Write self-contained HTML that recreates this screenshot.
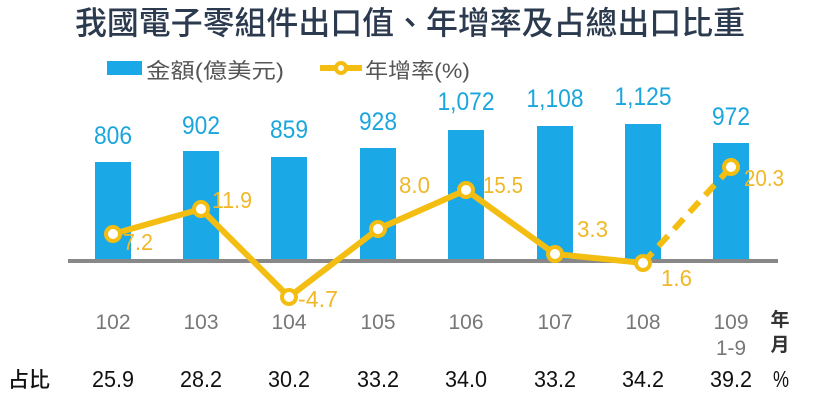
<!DOCTYPE html><html><head><meta charset="utf-8"><style>body{margin:0;background:#fff}svg{display:block}</style></head><body>
<svg width="822" height="404" xmlns="http://www.w3.org/2000/svg" font-family="Liberation Sans, Noto Sans CJK TC, sans-serif">
<text x="410" y="34" text-anchor="middle" font-size="32" fill="#2b3a4e" font-weight="500" font-family="Noto Sans CJK TC, sans-serif" textLength="670" lengthAdjust="spacingAndGlyphs">我國電子零組件出口值、年增率及占總出口比重</text>
<rect x="107" y="61" width="35" height="14" fill="#1aa9e6"/>
<text x="146" y="78" font-size="21" fill="#555" textLength="138" lengthAdjust="spacingAndGlyphs">金額(億美元)</text>
<line x1="320" y1="68" x2="362" y2="68" stroke="#f4bd12" stroke-width="6"/>
<circle cx="341" cy="68" r="5" fill="#fff" stroke="#f4bd12" stroke-width="4"/>
<text x="365" y="78" font-size="21" fill="#555" textLength="105" lengthAdjust="spacingAndGlyphs">年增率(%)</text>
<g fill="#1aa9e6">
<rect x="95" y="162" width="36" height="98"/><rect x="183" y="151" width="36" height="109"/><rect x="271" y="157" width="36" height="103"/><rect x="360" y="148" width="36" height="112"/><rect x="448" y="130" width="36" height="130"/><rect x="537" y="126" width="36" height="134"/><rect x="625" y="124" width="36" height="136"/><rect x="713" y="143" width="36" height="117"/>
</g>
<line x1="68" y1="261" x2="778" y2="261" stroke="#888" stroke-width="4"/>
<g font-size="25" fill="#1aa6dc" text-anchor="middle">
<text x="113" y="144" textLength="38" lengthAdjust="spacingAndGlyphs">806</text><text x="201" y="134" textLength="38" lengthAdjust="spacingAndGlyphs">902</text><text x="289" y="138" textLength="38" lengthAdjust="spacingAndGlyphs">859</text><text x="378" y="130" textLength="38" lengthAdjust="spacingAndGlyphs">928</text><text x="466" y="110" textLength="57" lengthAdjust="spacingAndGlyphs">1,072</text><text x="555" y="107" textLength="57" lengthAdjust="spacingAndGlyphs">1,108</text><text x="643" y="105" textLength="57" lengthAdjust="spacingAndGlyphs">1,125</text><text x="731" y="125" textLength="38" lengthAdjust="spacingAndGlyphs">972</text>
</g>
<polyline points="113,234 201,209 289,297 378,229 466,190 555,254 643,263" fill="none" stroke="#f4bd12" stroke-width="6" stroke-linejoin="round"/>
<line x1="643" y1="263" x2="731" y2="167" stroke="#f4bd12" stroke-width="6" stroke-dasharray="14,9"/>
<g fill="#fff" stroke="#f4bd12" stroke-width="4">
<circle cx="113" cy="234" r="7"/><circle cx="201" cy="209" r="7"/><circle cx="289" cy="297" r="7"/><circle cx="378" cy="229" r="7"/><circle cx="466" cy="190" r="7"/><circle cx="555" cy="254" r="7"/><circle cx="643" cy="263" r="7"/><circle cx="731" cy="167" r="7"/>
</g>
<g font-size="23" fill="#f0b828">
<text x="123" y="250" textLength="30" lengthAdjust="spacingAndGlyphs">7.2</text><text x="212" y="208" textLength="40" lengthAdjust="spacingAndGlyphs">11.9</text><text x="298" y="307" textLength="40" lengthAdjust="spacingAndGlyphs">-4.7</text><text x="399" y="193" textLength="31" lengthAdjust="spacingAndGlyphs">8.0</text><text x="483" y="193" textLength="40" lengthAdjust="spacingAndGlyphs">15.5</text><text x="577" y="237" textLength="31" lengthAdjust="spacingAndGlyphs">3.3</text><text x="661" y="286" textLength="31" lengthAdjust="spacingAndGlyphs">1.6</text><text x="744" y="186" textLength="40" lengthAdjust="spacingAndGlyphs">20.3</text>
</g>
<g font-size="21" fill="#777" text-anchor="middle">
<text x="113" y="329" textLength="35" lengthAdjust="spacingAndGlyphs">102</text><text x="201" y="329" textLength="35" lengthAdjust="spacingAndGlyphs">103</text><text x="289" y="329" textLength="35" lengthAdjust="spacingAndGlyphs">104</text><text x="378" y="329" textLength="35" lengthAdjust="spacingAndGlyphs">105</text><text x="466" y="329" textLength="35" lengthAdjust="spacingAndGlyphs">106</text><text x="555" y="329" textLength="35" lengthAdjust="spacingAndGlyphs">107</text><text x="643" y="329" textLength="35" lengthAdjust="spacingAndGlyphs">108</text><text x="731" y="329" textLength="35" lengthAdjust="spacingAndGlyphs">109</text><text x="731" y="355" textLength="30" lengthAdjust="spacingAndGlyphs">1-9</text>
</g>
<text x="780" y="326" font-size="19" fill="#333" font-weight="bold" text-anchor="middle" font-family="Noto Sans CJK TC, sans-serif">年</text>
<text x="780" y="351" font-size="19" fill="#333" font-weight="bold" text-anchor="middle" font-family="Noto Sans CJK TC, sans-serif">月</text>
<text x="8" y="387" font-size="21" fill="#111" font-weight="500" font-family="Noto Sans CJK TC, sans-serif">占比</text>
<g font-size="23" fill="#111" text-anchor="middle">
<text x="113" y="387" textLength="42" lengthAdjust="spacingAndGlyphs">25.9</text><text x="201" y="387" textLength="42" lengthAdjust="spacingAndGlyphs">28.2</text><text x="289" y="387" textLength="42" lengthAdjust="spacingAndGlyphs">30.2</text><text x="378" y="387" textLength="42" lengthAdjust="spacingAndGlyphs">33.2</text><text x="466" y="387" textLength="42" lengthAdjust="spacingAndGlyphs">34.0</text><text x="555" y="387" textLength="42" lengthAdjust="spacingAndGlyphs">33.2</text><text x="643" y="387" textLength="42" lengthAdjust="spacingAndGlyphs">34.2</text><text x="731" y="387" textLength="42" lengthAdjust="spacingAndGlyphs">39.2</text><text x="781" y="387" textLength="16" lengthAdjust="spacingAndGlyphs">%</text>
</g>
</svg></body></html>
